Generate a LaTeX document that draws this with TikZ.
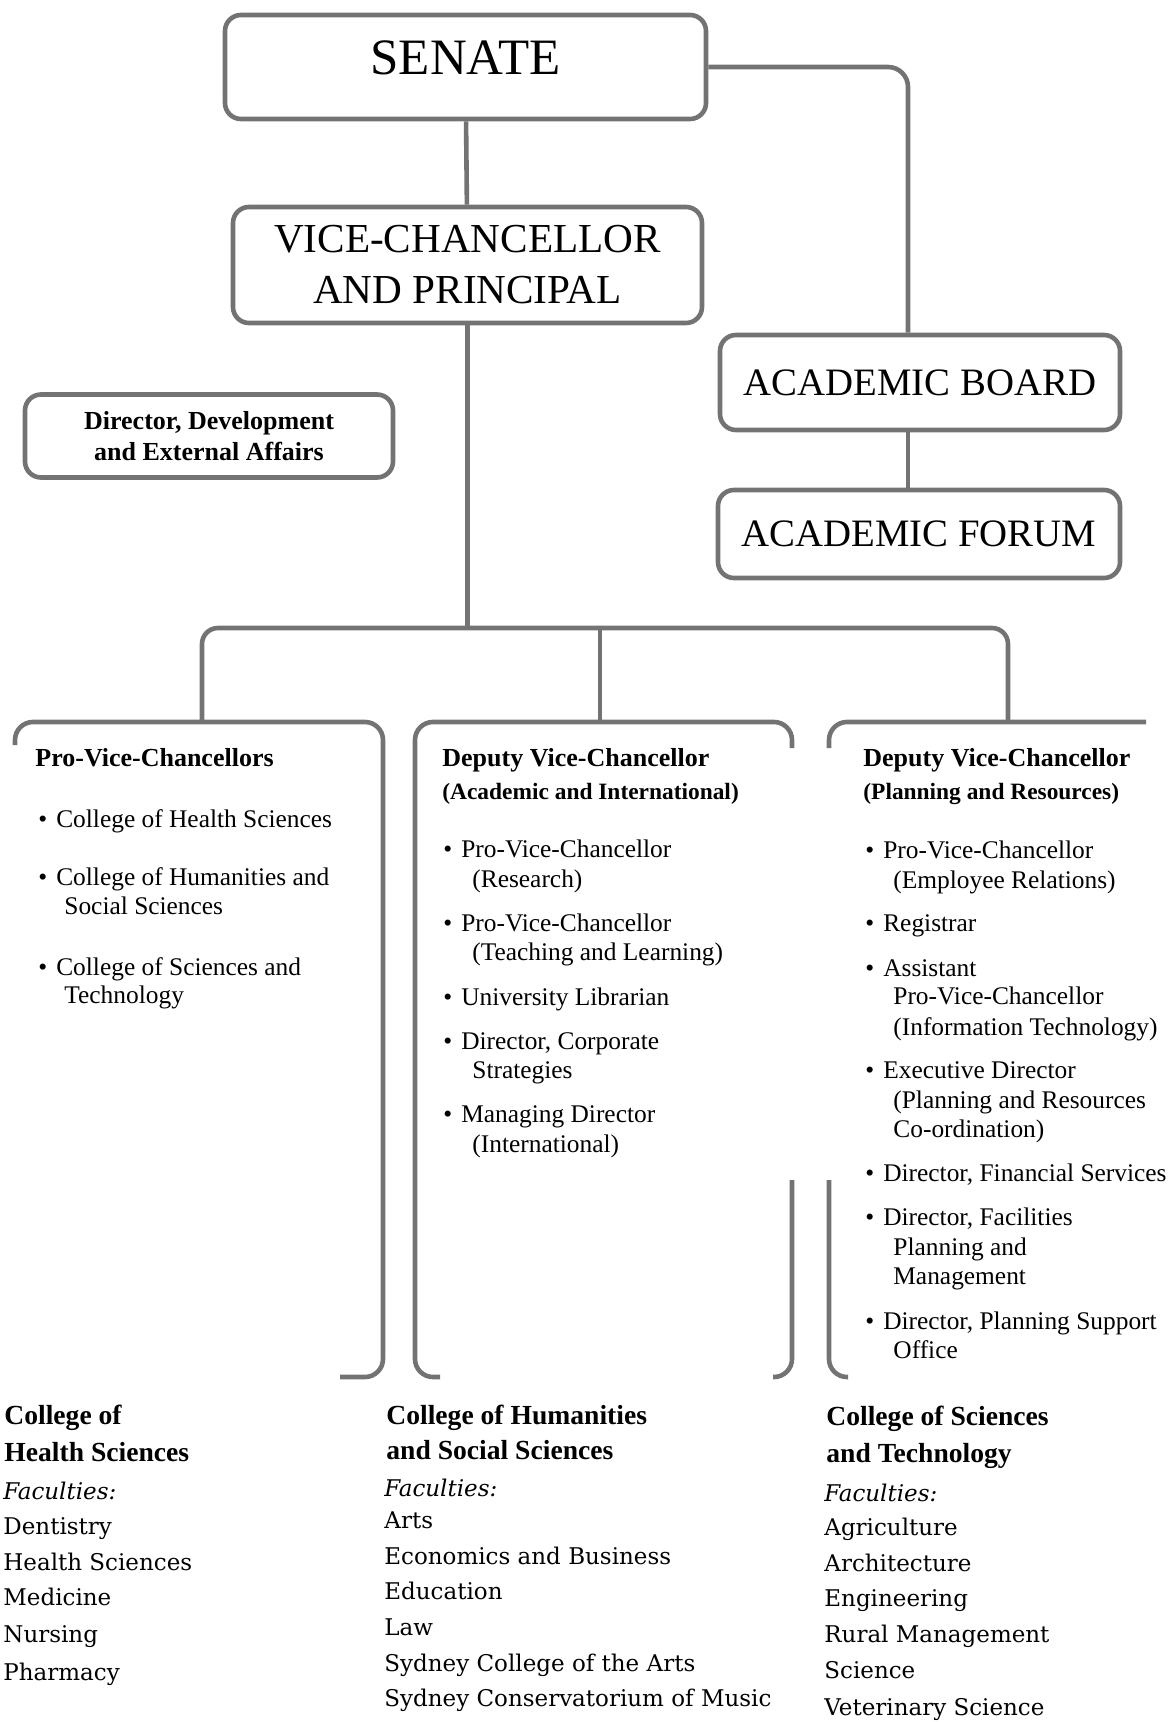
\documentclass[tikz,border=0pt]{standalone}
\usepackage{fontspec}
\setmainfont{Liberation Serif}
\newfontfamily\facfont{DejaVu Serif}
\usetikzlibrary{positioning, calc}

\newcommand{\bul}{\textbullet\hspace{4.5pt}}

\begin{document}
\begin{tikzpicture}[
	x=0.5pt, y=-0.5pt,
	% Styles
	link/.style={draw=black!55, line width=2.3pt},
	panel/.style={link, rectangle, rounded corners=8pt, inner sep=0pt, align=center},
	lead/.style={anchor=base west, inner sep=0pt, font=\bfseries\fontsize{13}{15}\selectfont},
	sublead/.style={anchor=base west, inner sep=0pt, font=\bfseries\fontsize{11.7}{14}\selectfont},
	entry/.style={anchor=base west, inner sep=0pt, font=\fontsize{12.7}{14}\selectfont},
	college/.style={anchor=base west, inner sep=0pt, font=\bfseries\fontsize{13.8}{16}\selectfont},
	faculty/.style={anchor=base west, inner sep=0pt, font=\facfont\fontsize{11.5}{14}\selectfont}
	]
	\useasboundingbox (0,0) rectangle (1171,1722);
	
	% --- Top of the chart ---
	\node[panel, minimum width=240.5pt, minimum height=52pt, text depth=9pt,
	font=\fontsize{25.5}{30}\selectfont] (senate) at (465.5,67) {SENATE};
	\node[panel, minimum width=234.5pt, minimum height=58pt,
	font=\fontsize{20.6}{25.5}\selectfont] (vc) at (467.5,265) {VICE-CHANCELLOR\\AND PRINCIPAL};
	\node[panel, minimum width=200pt, minimum height=47.5pt,
	font=\fontsize{19.4}{22}\selectfont] (board) at (920,382.5) {ACADEMIC BOARD};
	\node[panel, minimum width=201pt, minimum height=44pt,
	font=\fontsize{19.4}{22}\selectfont] (forum) at (919,534) {ACADEMIC FORUM};
	\node[panel, minimum width=184pt, minimum height=41.5pt,
	font=\bfseries\fontsize{13}{15.5}\selectfont] (dir) at (209,436) {Director, Development\\and External Affairs};
	
	\draw[link] (senate) -- (vc);
	\draw[link, rounded corners=10pt] (senate.east) -| ([xshift=-6pt]board.north);
	\draw[link] ([xshift=-6pt]board.south) -- ([xshift=-6pt]board.south |- forum.north);
	
	% --- Branches ---
	\coordinate (hub) at (467.5,628);
	\coordinate (t1) at (202,722);
	\coordinate (t2) at (600,722);
	\coordinate (t3) at (1008,722);
	\draw[link] (vc) -- (hub);
	\draw[link, rounded corners=8pt] (t1) |- (hub) -| (t3);
	\draw[link] (t2) -- (t2 |- hub);
	
	% tabs (bottom edges hidden)
	\draw[link, rounded corners=9pt] (15,745) |- (383,722) -- (383,1377) -- (340,1377);
	\draw[link, rounded corners=9pt] (440,1377) -| (415,722) -| (792,748);
	\draw[link, rounded corners=9pt] (792,1180) |- (773,1377);
	\draw[link, rounded corners=9pt] (829,748) |- (1146,722);
	\draw[link, rounded corners=9pt] (829,1180) |- (848,1377);
	
	% --- Pro-Vice-Chancellors ---
	\node[lead] (pvc) at (35,766) {Pro-Vice-Chancellors};
	\foreach \y/\t in {827/College of Health Sciences, 885/College of Humanities and, 975/College of Sciences and}
	\node[entry] (pv\y) at (38,\y) {\bul\t};
	\foreach \y/\t in {914/Social Sciences, 1003/Technology}
	\node[entry] (pv\y) at (64,\y) {\t};
	
	% --- Deputy Vice-Chancellor (Academic) ---
	\node[lead] (dvca) at (442,766) {Deputy Vice-Chancellor};
	\node[sublead] (dvca2) at (442,799) {(Academic and International)};
	\foreach \y/\t in {857/Pro-Vice-Chancellor, 931/Pro-Vice-Chancellor, 1005/University Librarian,
		{1049/Director, Corporate}, 1122/Managing Director}
	\node[entry] (ac\y) at (443,\y) {\bul\t};
	\foreach \y/\t in {887/(Research), 960/(Teaching and Learning), 1078/Strategies, 1152/(International)}
	\node[entry] (ac\y) at (472,\y) {\t};
	
	% --- Deputy Vice-Chancellor (Planning) ---
	\node[lead] (dvcp) at (863,766) {Deputy Vice-Chancellor};
	\node[sublead] (dvcp2) at (863,799) {(Planning and Resources)};
	\foreach \y/\t in {858/Pro-Vice-Chancellor, 931/Registrar, 976/Assistant, 1078/Executive Director,
		{1181/Director, Financial Services}, {1225/Director, Facilities}, {1329/Director, Planning Support}}
	\node[entry] (pr\y) at (865,\y) {\bul\t};
	\foreach \y/\t in {888/(Employee Relations), 1004/Pro-Vice-Chancellor, 1035/(Information Technology),
		1108/(Planning and Resources, 1137/Co-ordination), 1255/Planning and, 1284/Management, 1358/Office}
	\node[entry] (pr\y) at (893,\y) {\t};
	
	% --- Colleges ---
	\node[college] (chs) at (4,1424) {College of};
	\node[college] (chs2) at (4,1461) {Health Sciences};
	\node[faculty, font=\facfont\itshape\fontsize{11.5}{14}\selectfont] (chsf) at (3,1499) {Faculties:};
	\foreach \y/\t in {1534/Dentistry, 1570/Health Sciences, 1605/Medicine, 1642/Nursing, 1680/Pharmacy}
	\node[faculty] (hs\y) at (3,\y) {\t};
	
	\node[college] (chu) at (386,1424) {College of Humanities};
	\node[college] (chu2) at (386,1459) {and Social Sciences};
	\node[faculty, font=\facfont\itshape\fontsize{11.5}{14}\selectfont] (chuf) at (384,1496) {Faculties:};
	\foreach \y/\t in {1528/Arts, 1564/Economics and Business, 1599/Education, 1635/Law,
		1671/Sydney College of the Arts, 1706/Sydney Conservatorium of Music}
	\node[faculty] (hu\y) at (384,\y) {\t};
	
	\node[college] (cst) at (826,1425) {College of Sciences};
	\node[college] (cst2) at (826,1462) {and Technology};
	\node[faculty, font=\facfont\itshape\fontsize{11.5}{14}\selectfont] (cstf) at (824,1501) {Faculties:};
	\foreach \y/\t in {1535/Agriculture, 1571/Architecture, 1606/Engineering, 1642/Rural Management,
		1678/Science, 1715/Veterinary Science}
	\node[faculty] (st\y) at (824,\y) {\t};
	
\end{tikzpicture}
\end{document}
